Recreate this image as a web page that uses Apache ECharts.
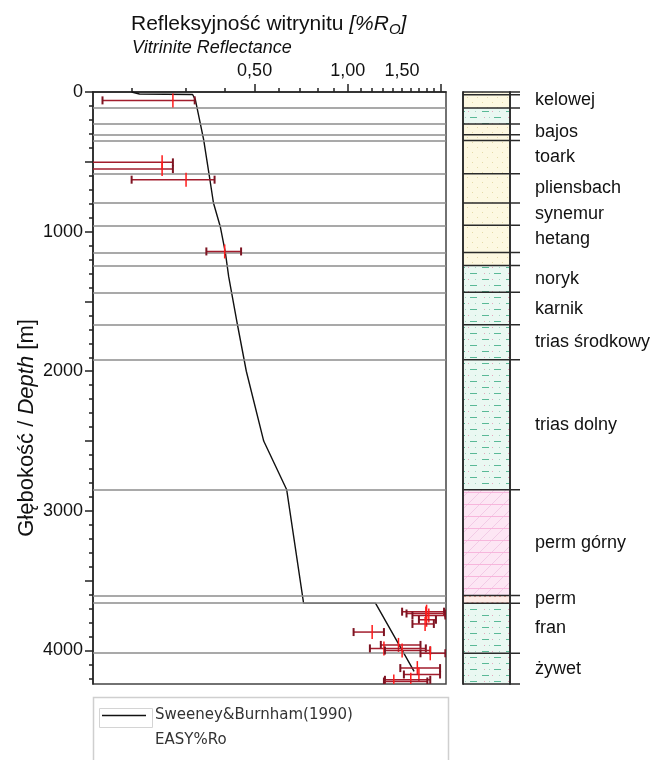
<!DOCTYPE html>
<html><head><meta charset="utf-8">
<script src="https://cdn.jsdelivr.net/npm/echarts@6/dist/echarts.min.js"></script>
<style>html,body{margin:0;padding:0;background:#fff}#c{width:659px;height:760px}</style>
</head><body><div id="c"></div><script>
// ---- data ----
const sampleDepth=[60,504,552,628,1142,3722,3735,3750,3780,3810,3868,3960,3985,4000,4020,4126,4172,4210,4222];
const sampleMin =[0.161,0.10,0.10,0.20,0.349,1.50,1.55,1.62,1.70,1.62,1.045,1.28,1.18,1.32,1.72,1.48,1.52,1.32,1.31];
const sampleMean=[0.272,0.251,0.251,0.30,0.40,1.80,1.79,1.83,1.80,1.78,1.20,1.46,1.31,1.50,1.85,1.68,1.70,1.60,1.41];
const sampleMax =[0.32,0.272,0.272,0.371,0.452,2.05,2.07,2.07,1.93,1.90,1.31,1.72,1.79,1.85,2.07,1.99,1.99,1.85,1.81];

const modelDepth=[0,14,18,55,341,605,795,963,1149,1321,1667,2000,2500,2849,3661,3661,4150];
const modelRo   =[0.20,0.212,0.315,0.3215,0.342,0.357,0.368,0.387,0.402,0.412,0.44,0.47,0.535,0.635,0.72,1.23,1.64];

const boundaryDepths=[115,229,306,347,585,795,955,1149,1242,1435,1667,1917,2849,3606,3661,4019];
const columnBoundaryDepths=[0,20,115,229,306,347,585,795,955,1149,1242,1435,1667,1917,2849,3606,3661,4019,4240];

const formationName=['kelowej','','bajos','toark','pliensbach','synemur','hetang','','noryk','karnik','trias środkowy','trias dolny','perm górny','perm','fran','żywet'];
const formationTop =[0,115,229,347,585,795,955,1149,1242,1435,1667,1917,2849,3606,3661,4019];
const formationBase=[115,229,347,585,795,955,1149,1242,1435,1667,1917,2849,3606,3661,4019,4240];

const lithTop =[0,115,229,1242,2849,3606,3661];
const lithBase=[115,229,1242,2849,3606,3661,4240];
const lithType=['sand','mud','sand','mud','pink','wavy','mud'];

const xLabelValues=[0.5,1.0,1.5];
const xMajorTicks=[0.5,1.0,2.0];
const xMinorTicks=[0.2,0.3,0.4,0.6,0.7,0.8,0.9,1.1,1.2,1.3,1.4,1.5,1.6,1.7,1.8,1.9];
const yLabelValues=[0,1000,2000,3000,4000];
const yMajorTicks=[0,500,1000,1500,2000,2500,3000,3500,4000];
const yMinorTicks=[100,200,300,400,600,700,800,900,1100,1200,1300,1400,1600,1700,1800,1900,2100,2200,2300,2400,2600,2700,2800,2900,3100,3200,3300,3400,3600,3700,3800,3900,4100,4200];

const DEPTH_MAX=4240, RO_MIN=0.15, RO_MAX=2.08;
const FONT='"Liberation Sans", Arial, sans-serif';
const LFONT='"DejaVu Sans", sans-serif';

// ---- patterns ----
function pat(w,h,draw){const c=document.createElement('canvas');c.width=w;c.height=h;const g=c.getContext('2d');draw(g);return {image:c,repeat:'repeat'};}
const patterns={
  sand:pat(10,10,g=>{g.fillStyle='#fdf8e1';g.fillRect(0,0,10,10);g.fillStyle='#e4d9a9';g.fillRect(2,2,1,1);g.fillRect(7,7,1,1);}),
  mud:pat(24,12,g=>{g.fillStyle='#eaf8f2';g.fillRect(0,0,24,12);g.strokeStyle='#5ab997';g.lineWidth=1;g.beginPath();g.moveTo(2,3.5);g.lineTo(9,3.5);g.moveTo(14,9.5);g.lineTo(21,9.5);g.stroke();g.fillStyle='#e6a6bd';g.fillRect(12,3,1,1);g.fillRect(4,9,1,1);g.fillStyle='#a5d4c3';g.fillRect(19,3,1,1);g.fillRect(9,9,1,1);}),
  pink:pat(12,12,g=>{g.fillStyle='#fde6f4';g.fillRect(0,0,12,12);g.strokeStyle='#f2cbe6';g.lineWidth=1;g.beginPath();g.moveTo(0,12);g.lineTo(12,0);g.stroke();g.strokeStyle='#f7b6dc';g.beginPath();g.moveTo(0,0.5);g.lineTo(12,0.5);g.stroke();}),
  wavy:pat(10,8,g=>{g.fillStyle='#fdebe6';g.fillRect(0,0,10,8);g.strokeStyle='#e99d92';g.lineWidth=1;g.beginPath();g.moveTo(0,5);g.lineTo(2.5,2);g.lineTo(5,5);g.lineTo(7.5,2);g.lineTo(10,5);g.stroke();})
};

const chart=echarts.init(document.getElementById('c'),null,{renderer:'canvas'});
const fmtX=v=>Number(v).toFixed(2).replace('.',',');

const option={
  backgroundColor:'#fff',
  animation:false,
  textStyle:{fontFamily:FONT},
  title:[
    {text:'{n|Refleksyjność witrynitu }{i|[%R}{s|O}{i|]}',left:126,top:7,
     textStyle:{rich:{
       n:{fontSize:21,fontFamily:FONT,color:'#111',fontWeight:'normal'},
       i:{fontSize:21,fontFamily:FONT,color:'#111',fontWeight:'normal',fontStyle:'italic'},
       s:{fontSize:15,fontFamily:FONT,color:'#111',fontWeight:'normal',fontStyle:'italic',padding:[10,0,0,0]}}}},
    {text:'Vitrinite Reflectance',left:127,top:34,textStyle:{fontSize:18,fontFamily:FONT,color:'#111',fontWeight:'normal',fontStyle:'italic'}}
  ],
  grid:[
    {left:93,top:92,width:353,height:592,show:true,borderColor:'#444',borderWidth:1.5,backgroundColor:'transparent'},
    {left:463,top:92,width:47,height:592,show:false}
  ],
  xAxis:[
    {type:'log',gridIndex:0,position:'top',min:RO_MIN,max:RO_MAX,logBase:10,
     axisLine:{show:true,lineStyle:{color:'#222',width:1.5}},
     axisTick:{show:true,length:8,customValues:xMajorTicks,lineStyle:{color:'#222',width:1.5}},
     axisLabel:{show:true,customValues:xLabelValues,formatter:fmtX,fontSize:18,color:'#111',fontFamily:FONT,margin:12},
     splitLine:{show:false},minorTick:{show:false}},
    {type:'log',gridIndex:0,position:'top',min:RO_MIN,max:RO_MAX,logBase:10,
     axisLine:{show:false},
     axisTick:{show:true,length:4,customValues:xMinorTicks,lineStyle:{color:'#222',width:1.5}},
     axisLabel:{show:false},splitLine:{show:false}},
    {type:'value',gridIndex:1,min:0,max:1,show:false}
  ],
  yAxis:[
    {type:'value',gridIndex:0,inverse:true,min:0,max:DEPTH_MAX,
     name:'{a|Głębokość / }{b|Depth}{a| [m]}',nameLocation:'middle',nameRotate:90,nameGap:55,nameMoveOverlap:false,
     nameTextStyle:{padding:[0,80,0,0],rich:{a:{fontSize:22,fontFamily:FONT,color:'#111'},b:{fontSize:22,fontFamily:FONT,color:'#111',fontStyle:'italic'}}},
     axisLine:{show:true,lineStyle:{color:'#222',width:1.5}},
     axisTick:{show:true,length:8,customValues:yMajorTicks,lineStyle:{color:'#222',width:1.5}},
     axisLabel:{show:true,customValues:yLabelValues,formatter:v=>String(v),fontSize:18,color:'#111',fontFamily:FONT,margin:10},
     splitLine:{show:false}},
    {type:'value',gridIndex:0,inverse:true,min:0,max:DEPTH_MAX,position:'left',
     axisLine:{show:false},
     axisTick:{show:true,length:4,customValues:yMinorTicks,lineStyle:{color:'#222',width:1.5}},
     axisLabel:{show:false},splitLine:{show:false}},
    {type:'value',gridIndex:1,inverse:true,min:0,max:DEPTH_MAX,position:'left',z:5,
     axisLine:{show:true,lineStyle:{color:'#333',width:2}},axisTick:{show:false},axisLabel:{show:false},splitLine:{show:false}},
    {type:'value',gridIndex:1,inverse:true,min:0,max:DEPTH_MAX,position:'right',z:5,
     axisLine:{show:true,lineStyle:{color:'#333',width:2}},axisTick:{show:false},axisLabel:{show:false},splitLine:{show:false}}
  ],
  legend:{left:102,top:708,padding:0,itemWidth:44,itemHeight:1.6,itemGap:6,icon:'rect',
    data:[{name:'Sweeney&Burnham(1990)',icon:'rect',itemStyle:{color:'#111',borderWidth:0}}],
    textStyle:{fontSize:15,fontFamily:LFONT,color:'#333',padding:[0,0,0,4]}},
  graphic:[
    {type:'rect',left:91,top:695,shape:{x:0,y:0,width:355,height:80},style:{fill:'none',stroke:'#cfcfcf',lineWidth:1.5},silent:true},
    {type:'rect',left:97,top:706,shape:{x:0,y:0,width:53,height:19},style:{fill:'none',stroke:'#d4d4d4',lineWidth:1},silent:true},
    {type:'text',left:155,top:733,style:{text:'EASY%Ro',fontSize:15,fontFamily:LFONT,fill:'#333'},silent:true}
  ],
  series:[
    {name:'Sweeney&Burnham(1990)',type:'line',xAxisIndex:0,yAxisIndex:0,symbol:'none',z:4,color:'#111',
     data:modelDepth.map((d,i)=>[modelRo[i],d]),
     lineStyle:{color:'#111',width:1.4},
     markLine:{silent:true,symbol:['none','none'],label:{show:false},
       lineStyle:{color:'#8c8c8c',width:1.5,type:'solid'},
       data:boundaryDepths.map(d=>({yAxis:d}))}},
    {type:'custom',xAxisIndex:0,yAxisIndex:0,clip:true,z:5,
     data:sampleDepth.map((d,i)=>[d,sampleMin[i],sampleMean[i],sampleMax[i]]),
     encode:{x:[1,2,3],y:0},
     renderItem:function(params,api){
       const y=api.value(0);
       const a=api.coord([api.value(1),y]);
       const m=api.coord([api.value(2),y]);
       const b=api.coord([api.value(3),y]);
       return {type:'group',children:[
         {type:'line',shape:{x1:a[0],y1:a[1],x2:b[0],y2:b[1]},style:{stroke:'#a21d2d',lineWidth:1.5}},
         {type:'line',shape:{x1:a[0],y1:a[1]-4,x2:a[0],y2:a[1]+4},style:{stroke:'#7d1422',lineWidth:2}},
         {type:'line',shape:{x1:b[0],y1:b[1]-4,x2:b[0],y2:b[1]+4},style:{stroke:'#7d1422',lineWidth:2}},
         {type:'line',shape:{x1:m[0],y1:m[1]-7,x2:m[0],y2:m[1]+7},style:{stroke:'#ff1a1a',lineWidth:1.5}}
       ]};
     }},
    {type:'custom',xAxisIndex:2,yAxisIndex:2,z:2,
     data:lithTop.map((t,i)=>[t,lithBase[i]]),
     encode:{y:[0,1]},
     renderItem:function(params,api){
       const p1=api.coord([0,api.value(0)]);
       const p2=api.coord([1,api.value(1)]);
       return {type:'rect',shape:{x:p1[0],y:p1[1],width:p2[0]-p1[0],height:p2[1]-p1[1]},style:{fill:patterns[lithType[params.dataIndex]]}};
     }},
    {type:'custom',xAxisIndex:2,yAxisIndex:2,z:6,
     data:columnBoundaryDepths.map(d=>[d]),
     encode:{y:0},
     renderItem:function(params,api){
       const p=api.coord([0,api.value(0)]);
       const q=api.coord([1,api.value(0)]);
       return {type:'line',shape:{x1:p[0],y1:p[1],x2:q[0]+10,y2:q[1]},style:{stroke:'#2a2a2a',lineWidth:1.5}};
     }},
    {type:'custom',xAxisIndex:2,yAxisIndex:2,z:6,
     data:formationTop.map((t,i)=>[t,formationBase[i]]),
     encode:{y:[0,1]},
     renderItem:function(params,api){
       const mid=(api.value(0)+api.value(1))/2;
       const p=api.coord([1,mid]);
       return {type:'text',x:p[0]+25,y:p[1],style:{text:formationName[params.dataIndex],fontSize:18,fontFamily:FONT,fill:'#111',align:'left',verticalAlign:'middle'}};
     }}
  ]
};
chart.setOption(option);
</script></body></html>
